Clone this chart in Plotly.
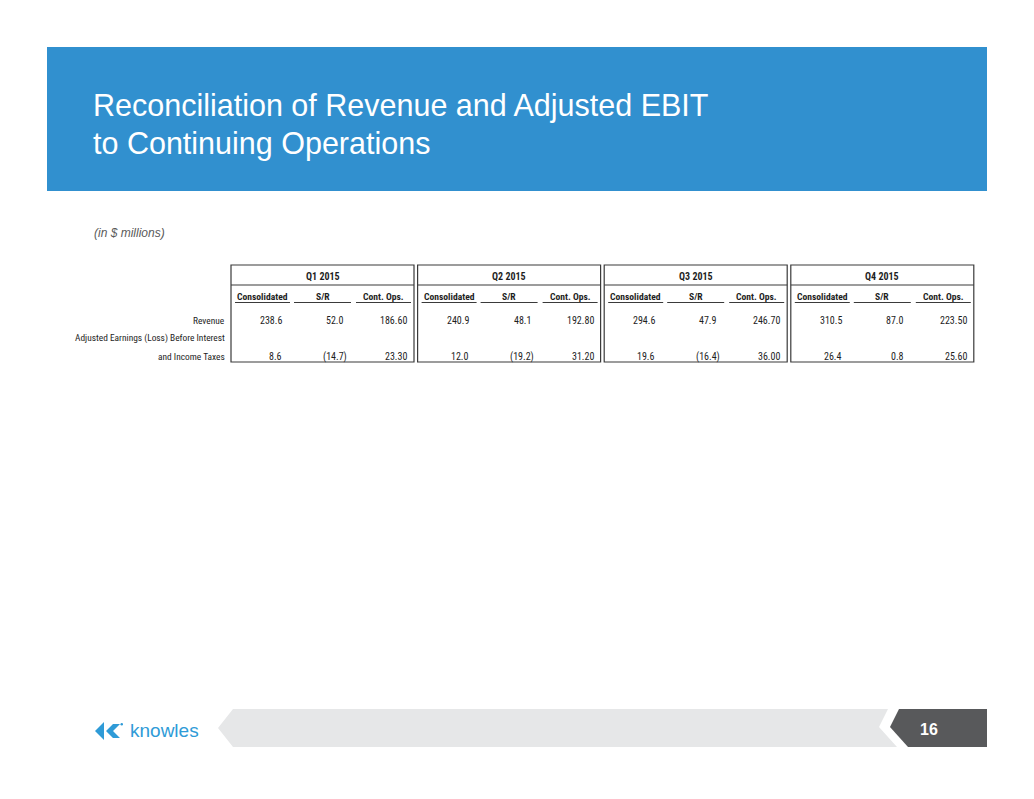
import plotly.graph_objects as go

# table content
quarters = ["Q1 2015", "Q2 2015", "Q3 2015", "Q4 2015"]
col_names = ["Consolidated", "S/R", "Cont. Ops."]
row_labels = ["Revenue", "Adjusted Earnings (Loss) Before Interest", "and Income Taxes"]

revenue_consolidated = [238.6, 240.9, 294.6, 310.5]
revenue_sr = [52.0, 48.1, 47.9, 87.0]
revenue_cont_ops = [186.60, 192.80, 246.70, 223.50]
ebit_consolidated = [8.6, 12.0, 19.6, 26.4]
ebit_sr = [-14.7, -19.2, -16.4, 0.8]
ebit_cont_ops = [23.30, 31.20, 36.00, 25.60]

title_lines = ["Reconciliation of Revenue and Adjusted EBIT", "to Continuing Operations"]
subtitle = "(in $ millions)"
page_number = "16"
brand = "knowles"

# page has an 8px body margin, so the axes are offset to keep slide pixel coords
PAD = 8
W, H = 1034 - 2 * PAD, 799 - 2 * PAD
BLUE = "#3190CF"
LINE = "#3a3a3a"
TXT = "#1e1e1e"
TABLE_FONT = "Liberation Sans Narrow, Arial Narrow, Roboto Condensed, sans-serif"
SANS = "Liberation Sans, Arial, Helvetica, sans-serif"

# table geometry (slide pixels)
box_left0, box_step, box_w = 231, 186.6, 183
box_top, sep_y, head_y, under_y = 265, 285, 296, 302.5
row_y = [320, 338, 356]
box_bottom = 362
seg = [(4, 59), (63, 120), (125, 180)]
val_right = [53, 115, 178]


def fmt(v, d):
    s = f"{abs(v):.{d}f}"
    return f"({s})" if v < 0 else s


fig = go.Figure()
shapes = []
ann = []

# header band
shapes.append(dict(type="rect", x0=47, x1=987, y0=47, y1=191, fillcolor=BLUE, line_width=0, layer="below"))
for i, t in enumerate(title_lines):
    ann.append(dict(x=91, y=105 + i * 38, text=t, xanchor="left", yanchor="middle",
                    font=dict(family=SANS, size=30.5, color="white")))
ann.append(dict(x=92, y=233, text="<i>" + subtitle + "</i>", xanchor="left", yanchor="middle",
                font=dict(family=SANS, size=12, color="#5a5a5a")))

# row labels
for lab, y in zip(row_labels, row_y):
    ann.append(dict(x=227, y=y, text=lab, xanchor="right", yanchor="middle",
                    font=dict(family=TABLE_FONT, size=9.4, color=TXT)))

series = [
    (revenue_consolidated, revenue_sr, revenue_cont_ops),
    (ebit_consolidated, ebit_sr, ebit_cont_ops),
]
decimals = [1, 1, 2]

for q, qname in enumerate(quarters):
    x0 = box_left0 + q * box_step
    x1 = x0 + box_w
    shapes.append(dict(type="rect", x0=x0, x1=x1, y0=box_top, y1=box_bottom,
                       line=dict(color=LINE, width=1.2)))
    shapes.append(dict(type="line", x0=x0, x1=x1, y0=sep_y, y1=sep_y,
                       line=dict(color=LINE, width=1.2)))
    ann.append(dict(x=(x0 + x1) / 2, y=(box_top + sep_y) / 2 + 1, text="<b>" + qname + "</b>",
                    xanchor="center", yanchor="middle",
                    font=dict(family=TABLE_FONT, size=10, color=TXT)))
    for c, cname in enumerate(col_names):
        a, b = seg[c]
        shapes.append(dict(type="line", x0=x0 + a, x1=x0 + b, y0=under_y, y1=under_y,
                           line=dict(color=LINE, width=1)))
        ann.append(dict(x=x0 + (a + b) / 2, y=head_y, text="<b>" + cname + "</b>",
                        xanchor="center", yanchor="middle",
                        font=dict(family=TABLE_FONT, size=9.6, color=TXT)))
    for r, vals in enumerate(series):
        y = row_y[0] if r == 0 else row_y[2]
        for c in range(3):
            v = vals[c][q]
            neg = v < 0
            # parentheses make the text box taller, nudge to keep the baseline level
            ann.append(dict(x=x0 + val_right[c] + (3 if neg else 0), y=y + (0.75 if neg else 0),
                            text=fmt(v, decimals[c]), xanchor="right", yanchor="middle",
                            font=dict(family=TABLE_FONT, size=10, color=TXT)))

# footer
shapes.append(dict(type="path", path="M 233 709 L 888 709 L 879 727 L 897 747 L 233 747 L 218 728 Z",
                   fillcolor="#E6E7E8", line_width=0))
shapes.append(dict(type="path", path="M 899 709 L 987 709 L 987 747 L 908 747 L 890 727 Z",
                   fillcolor="#58595B", line_width=0))
ann.append(dict(x=929, y=729, text="<b>" + page_number + "</b>", xanchor="center", yanchor="middle",
                font=dict(family=SANS, size=16, color="white")))

# logo
LOGO = "#2F9BD7"
shapes.append(dict(type="path", path="M 104 722 L 95 731 L 104 740 Z", fillcolor=LOGO, line_width=0))
shapes.append(dict(type="path", path="M 120 724 L 113 724 L 106 731 L 113 738 L 120 738 L 113 731 Z",
                   fillcolor=LOGO, line_width=0))
shapes.append(dict(type="circle", x0=120.5, x1=123, y0=723, y1=725.5, fillcolor=LOGO, line_width=0))
ann.append(dict(x=128, y=730, text=brand, xanchor="left", yanchor="middle",
                font=dict(family=SANS, size=19, color=LOGO)))

for a in ann:
    a.update(xref="x", yref="y", showarrow=False)

fig.update_layout(
    width=W, height=H,
    margin=dict(l=0, r=0, t=0, b=0),
    paper_bgcolor="white", plot_bgcolor="white",
    xaxis=dict(range=[PAD, PAD + W], visible=False, fixedrange=True),
    yaxis=dict(range=[PAD + H, PAD], visible=False, fixedrange=True),
    shapes=shapes, annotations=ann,
    showlegend=False,
)

fig.write_html("out.html")
